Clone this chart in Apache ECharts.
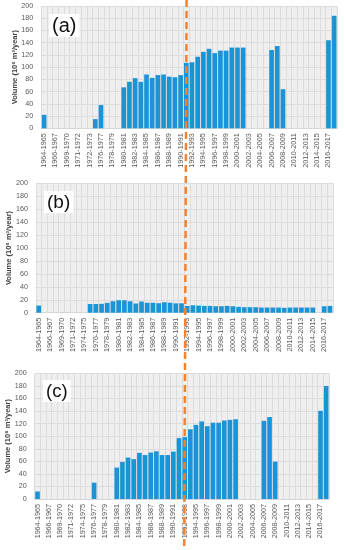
<!DOCTYPE html>
<html><head><meta charset="utf-8">
<script src="https://cdn.jsdelivr.net/npm/echarts@6/dist/echarts.min.js"></script>
<style>html,body{margin:0;padding:0;background:#fff}#chart{width:345px;height:550px}</style>
</head><body><div id="chart"></div>
<script>
const categories = ["1964-1965","1965-1966","1966-1967","1967-1968","1969-1970","1970-1971","1971-1972","1972-1973","1974-1975","1975-1976",
"1976-1977","1977-1978","1978-1979","1979-1980","1980-1981","1981-1982","1982-1983","1983-1984","1984-1985","1985-1986",
"1986-1987","1987-1988","1988-1989","1989-1990","1990-1991","1991-1992","1992-1993","1993-1994","1994-1995","1995-1996",
"1996-1997","1997-1998","1998-1999","1999-2000","2000-2001","2001-2002","2002-2003","2003-2004","2004-2005","2005-2006",
"2006-2007","2007-2008","2008-2009","2009-2010","2010-2011","2011-2012","2012-2013","2013-2014","2014-2015","2015-2016",
"2016-2017","2017-2018"];
const categoriesA = categories.slice(); categoriesA[8] = "1972-1973";

const volumeA = [22,null,null,null,null,null,null,null,null,15,38,null,null,null,
67,76,82,76,88,82.5,87,88,84.5,83.5,87,107,108,117,125,130,123,127,127,132,132,132,
null,null,null,null,128,134.5,64,null,null,null,null,null,null,null,144,184];

const volumeB = [11,null,null,null,null,null,null,null,null,
13.4,13.4,13.7,15.2,17.7,19.2,19.2,17.7,14.2,17.2,15.4,15.4,14.7,16.2,15.5,14.5,14.5,
10.5,11.5,11,10.5,10.5,10,10,10.5,10,9,8.5,8.5,8.5,8,8,8,8,7.5,8,8,8,8,8,
null,10,10.5];

const volumeC = [12,null,null,null,null,null,null,null,null,null,26,null,null,null,
50,59,66,63.5,73.5,70,74,76,70,70,75.5,97,98.5,111,118,123.5,116,121.5,121.5,125,126,127,
null,null,null,null,124.5,130.5,59.5,null,null,null,null,null,null,null,140.5,180];

const yMin = 0, yMax = 200, yInterval = 20;
const panelLabels = ["(a)","(b)","(c)"];
const yAxisTitle = "Volume (10\u2076 m\u00B3/year)";
const markerIndexA = 25;   // 1991-1992 in panel (a)
const markerIndexC = 26;   // 1992-1993 in panel (c)

const FONT = "'Liberation Sans', Arial, sans-serif";
const BAR = "#1a94d6";
const grids = [
  {left:41.3, top:6, width:295.7, height:122.3},
  {left:35.9, top:183.3, width:296.9, height:129.4},
  {left:34.7, top:373.4, width:294.3, height:125.6}
];
const nameGaps = [22, 23.3, 23.1];
const cats = [categoriesA, categories, categories];
const datas = [volumeA, volumeB, volumeC];

const chart = echarts.init(document.getElementById('chart'), null, {renderer:'canvas'});
const option = {
  animation:false,
  backgroundColor:'#fff',
  grid: grids.map(g => Object.assign({show:true, backgroundColor:'#efefef', borderWidth:0, containLabel:false, outerBoundsMode:'none'}, g)),
  xAxis: grids.map((g,i) => ({
    type:'category', gridIndex:i, data:cats[i], boundaryGap:true,
    axisLine:{show:true, lineStyle:{color:'#d6d6d6', width:1}},
    axisTick:{show:false},
    axisLabel:{interval:1, rotate:90, fontSize:7.2, color:'#595959', fontFamily:FONT, margin:5},
    splitLine:{show:true, interval:0, lineStyle:{color:'#dcdcdc', width:1}}
  })),
  yAxis: grids.map((g,i) => ({
    type:'value', gridIndex:i, min:yMin, max:yMax, interval:yInterval,
    name:yAxisTitle, nameLocation:'middle', nameGap:nameGaps[i], nameRotate:90, nameMoveOverlap:false,
    nameTextStyle:{fontSize:7.5, fontWeight:'bold', color:'#404040', fontFamily:FONT},
    axisLine:{show:false}, axisTick:{show:false},
    axisLabel:{fontSize:7.2, color:'#595959', fontFamily:FONT, margin:8},
    splitLine:{show:true, lineStyle:{color:'#dcdcdc', width:1}}
  })),
  series: datas.map((d,i) => ({
    type:'bar', xAxisIndex:i, yAxisIndex:i, data:d, barWidth:'82%',
    itemStyle:{color:BAR}, silent:true
  })),
  graphic: [
    {id:'la', type:'text', left:49, top:14, z:10, style:{text:panelLabels[0], font:'20px ' + FONT, fill:'#111', backgroundColor:'#fff', padding:[2,3,1,3]}},
    {id:'lb', type:'text', left:44, top:191, z:10, style:{text:panelLabels[1], font:'19px ' + FONT, fill:'#111', backgroundColor:'#fff', padding:[2,3,1,3]}},
    {id:'lc', type:'text', left:43, top:380, z:10, style:{text:panelLabels[2], font:'18.5px ' + FONT, fill:'#111', backgroundColor:'#fff', padding:[2,3,1,3]}}
  ]
};
chart.setOption(option);

const pa = chart.convertToPixel({gridIndex:0}, [markerIndexA, 100]);
const pc = chart.convertToPixel({gridIndex:2}, [markerIndexC, 100]);
const slope = (pc[0]-pa[0])/(pc[1]-pa[1]);
const H = 550;
const x0 = pa[0] + slope*(0 - pa[1]);
const x1 = pa[0] + slope*(H - pa[1]);
chart.setOption({graphic:[{id:'marker', type:'line', z:20, shape:{x1:x0, y1:0, x2:x1, y2:H},
  style:{stroke:'#f5822f', lineWidth:2.5, lineDash:[7,4]}}]});
</script></body></html>
